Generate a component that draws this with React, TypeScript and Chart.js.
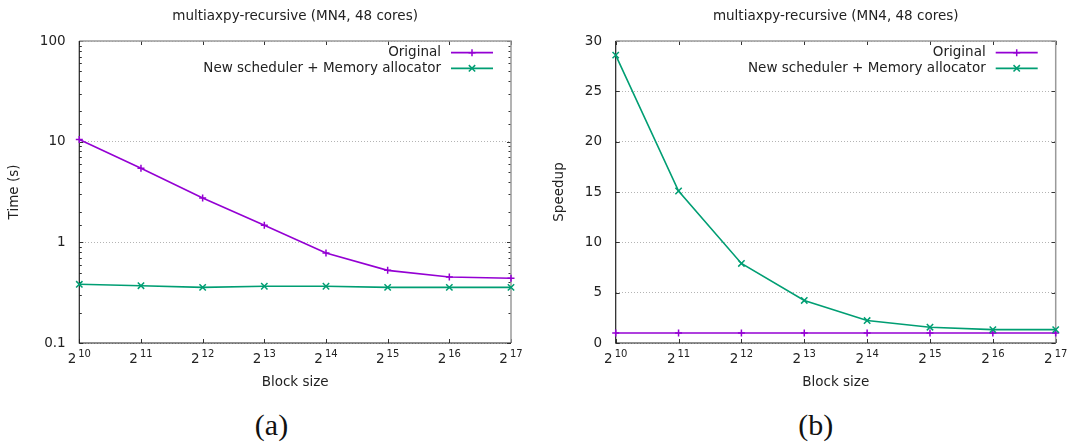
import React, { useEffect, useRef } from 'react';
import { Chart, registerables } from 'chart.js';

Chart.register(...registerables);

// ---------- data ----------
const blockExponents = [10, 11, 12, 13, 14, 15, 16, 17];
const blockBase = '2';
const seriesNames = ['Original', 'New scheduler + Memory allocator'];
const seriesColors = ['#9400d3', '#009e73'];
const seriesMarkers = ['cross', 'crossRot'];
const timeOriginal = [10.5, 5.45, 2.76, 1.48, 0.785, 0.527, 0.453, 0.44];
const timeNew = [0.383, 0.371, 0.357, 0.366, 0.366, 0.357, 0.357, 0.357];
const speedupOriginal = [1, 1, 1, 1, 1, 1, 1, 1];
const speedupNew = [28.6, 15.1, 7.9, 4.23, 2.23, 1.57, 1.33, 1.33];
const timeTickValues = [0.1, 1, 10, 100];
const timeTickLabels = ['0.1', '1', '10', '100'];
const speedupTickValues = [0, 5, 10, 15, 20, 25, 30];
const chartTitle = 'multiaxpy-recursive (MN4, 48 cores)';
const xTitle = 'Block size';
const yTitles = ['Time (s)', 'Speedup'];
const captions = ['(a)', '(b)'];

const FONT = "'DejaVu Sans', sans-serif";
const FS = 13.5;
const TEXT = '#222';

function isMajor(v: number, majors: number[]) {
  return majors.some((m) => Math.abs(v - m) < 1e-9 * Math.max(1, Math.abs(m)));
}

function drawMarker(ctx: CanvasRenderingContext2D, style: string, x: number, y: number, r: number) {
  ctx.beginPath();
  if (style === 'cross') {
    ctx.moveTo(x - r, y);
    ctx.lineTo(x + r, y);
    ctx.moveTo(x, y - r);
    ctx.lineTo(x, y + r);
  } else {
    const d = r * Math.SQRT1_2;
    ctx.moveTo(x - d, y - d);
    ctx.lineTo(x + d, y + d);
    ctx.moveTo(x - d, y + d);
    ctx.lineTo(x + d, y - d);
  }
  ctx.stroke();
}

const gnuplotPlugin = {
  id: 'gnuplotFrame',
  beforeDatasetsDraw(chart: any) {
    const opts = chart.options.plugins.gnuplotFrame;
    const { ctx, chartArea } = chart;
    const { left, right, top, bottom } = chartArea;
    const xs = chart.scales.x;
    const ys = chart.scales.y;
    ctx.save();
    ctx.strokeStyle = '#333';
    ctx.lineWidth = 1;
    // x tick marks (inward, bottom and top)
    blockExponents.forEach((_, i) => {
      const px = Math.round(xs.getPixelForValue(i)) + 0.5;
      ctx.beginPath();
      ctx.moveTo(px, bottom);
      ctx.lineTo(px, bottom - 4);
      ctx.moveTo(px, top);
      ctx.lineTo(px, top + 4);
      ctx.stroke();
    });
    // y tick marks (inward, left and right)
    ys.ticks.forEach((t: any) => {
      const py = Math.round(ys.getPixelForValue(t.value)) + 0.5;
      const len = isMajor(t.value, opts.majors) ? 4 : 2.5;
      ctx.beginPath();
      ctx.moveTo(left, py);
      ctx.lineTo(left + len, py);
      ctx.moveTo(right, py);
      ctx.lineTo(right - len, py);
      ctx.stroke();
    });
    // frame
    ctx.strokeStyle = '#9a9a9a';
    ctx.lineWidth = 1.5;
    ctx.beginPath();
    ctx.moveTo(left, top);
    ctx.lineTo(right, top);
    ctx.lineTo(right, bottom);
    ctx.stroke();
    ctx.strokeStyle = '#222';
    ctx.lineWidth = 1.2;
    ctx.beginPath();
    ctx.moveTo(left, top);
    ctx.lineTo(left, bottom);
    ctx.lineTo(right, bottom);
    ctx.stroke();
    ctx.restore();
  },
  afterDraw(chart: any) {
    const { ctx, chartArea } = chart;
    const { right, top } = chartArea;
    const xs = chart.scales.x;
    ctx.save();
    // x tick labels: 2^n with superscript
    ctx.fillStyle = TEXT;
    ctx.textBaseline = 'alphabetic';
    ctx.textAlign = 'left';
    blockExponents.forEach((e, i) => {
      const px = xs.getPixelForValue(i);
      ctx.font = `${FS}px ${FONT}`;
      const wb = ctx.measureText(blockBase).width;
      ctx.font = `10px ${FONT}`;
      const we = ctx.measureText(String(e)).width;
      const gap = 2;
      const start = px - (wb + gap + we) / 2;
      ctx.font = `${FS}px ${FONT}`;
      ctx.fillText(blockBase, start, 363.3);
      ctx.font = `10px ${FONT}`;
      ctx.fillText(String(e), start + wb + gap, 357.3);
    });
    // legend
    chart.data.datasets.forEach((ds: any) => {
      const idx = ds.seriesIndex;
      const y = top + (idx === 0 ? 11.7 : 27.3);
      ctx.font = `${FS}px ${FONT}`;
      ctx.fillStyle = TEXT;
      ctx.textAlign = 'right';
      ctx.textBaseline = 'middle';
      ctx.fillText(seriesNames[idx], right - 70, y);
      ctx.strokeStyle = seriesColors[idx];
      ctx.lineWidth = 1.7;
      ctx.beginPath();
      ctx.moveTo(right - 60, y);
      ctx.lineTo(right - 18, y);
      ctx.stroke();
      ctx.lineWidth = 1.5;
      drawMarker(ctx, seriesMarkers[idx], right - 39, y, idx === 0 ? 3.5 : 4.5);
    });
    ctx.restore();
  },
};

function makeDataset(idx: number, values: number[]) {
  return {
    label: seriesNames[idx],
    seriesIndex: idx,
    data: values,
    borderColor: seriesColors[idx],
    backgroundColor: seriesColors[idx],
    borderWidth: 1.6,
    pointStyle: seriesMarkers[idx],
    pointRadius: idx === 0 ? 3.5 : 4.5,
    pointBorderWidth: 1.5,
    pointBorderColor: seriesColors[idx],
    tension: 0,
    clip: false,
    order: idx === 0 ? 1 : 0,
  };
}

function makeConfig(kind: 'time' | 'speedup'): any {
  const isTime = kind === 'time';
  const majors = isTime ? timeTickValues : speedupTickValues;
  const titleFont = { family: FONT, size: FS, weight: 'normal', lineHeight: 1.2 };
  return {
    type: 'line',
    data: {
      labels: blockExponents.map(String),
      datasets: isTime
        ? [makeDataset(0, timeOriginal), makeDataset(1, timeNew)]
        : [makeDataset(0, speedupOriginal), makeDataset(1, speedupNew)],
    },
    plugins: [gnuplotPlugin],
    options: {
      responsive: false,
      animation: false,
      devicePixelRatio: 1,
      layout: { padding: { left: 0, right: isTime ? 23 : 12.3, top: 0, bottom: 0 } },
      plugins: {
        legend: { display: false },
        tooltip: { enabled: false },
        title: {
          display: true,
          text: chartTitle,
          fullSize: false,
          color: TEXT,
          font: titleFont,
          padding: { top: 8.6, bottom: 16.2 },
        },
        gnuplotFrame: { majors },
      },
      scales: {
        x: {
          type: 'category',
          offset: false,
          grid: { display: false },
          border: { display: false },
          ticks: { display: false },
          title: {
            display: true,
            text: xTitle,
            color: TEXT,
            font: titleFont,
            padding: { top: 0, bottom: 9.9 },
          },
          afterFit: (s: any) => {
            s.height = 57;
          },
        },
        y: isTime
          ? {
              type: 'logarithmic',
              position: 'left',
              min: 0.1,
              max: 100,
              grid: {
                drawTicks: false,
                lineWidth: 1,
                color: (c: any) =>
                  c.tick && isMajor(c.tick.value, majors) ? '#b4b4b4' : 'rgba(0,0,0,0)',
              },
              border: { display: false, dash: [1, 2] },
              ticks: {
                autoSkip: false,
                padding: 13.7,
                color: TEXT,
                font: { family: FONT, size: FS },
                callback: (v: any) => {
                  const i = timeTickValues.findIndex((m) => Math.abs(Number(v) - m) < 1e-9 * m);
                  return i >= 0 ? timeTickLabels[i] : '';
                },
              },
              title: {
                display: true,
                text: yTitles[0],
                color: TEXT,
                font: titleFont,
                padding: { top: 6.6, bottom: 0 },
              },
              afterFit: (s: any) => {
                s.width = 79.3;
              },
            }
          : {
              type: 'linear',
              position: 'left',
              min: 0,
              max: 30,
              grid: { drawTicks: false, lineWidth: 1, color: '#b4b4b4' },
              border: { display: false, dash: [1, 2] },
              ticks: {
                autoSkip: false,
                stepSize: 5,
                padding: 13.7,
                color: TEXT,
                font: { family: FONT, size: FS },
                callback: (v: any) => String(v),
              },
              title: {
                display: true,
                text: yTitles[1],
                color: TEXT,
                font: titleFont,
                padding: { top: 16.9, bottom: 0 },
              },
              afterFit: (s: any) => {
                s.width = 81.7;
              },
            },
      },
    },
  };
}

function GnuChart({ kind, left }: { kind: 'time' | 'speedup'; left: number }) {
  const ref = useRef<HTMLCanvasElement>(null);
  useEffect(() => {
    const chart = new Chart(ref.current as HTMLCanvasElement, makeConfig(kind));
    return () => chart.destroy();
  }, [kind]);
  return (
    <div style={{ position: 'absolute', left, top: 0, width: 534, height: 400 }}>
      <canvas ref={ref} width={534} height={400} style={{ display: 'block' }} />
    </div>
  );
}

function Caption({ text, cx }: { text: string; cx: number }) {
  return (
    <div
      style={{
        position: 'absolute',
        left: cx - 50,
        top: 410,
        width: 100,
        textAlign: 'center',
        fontFamily: "'Liberation Serif', serif",
        fontSize: 30,
        lineHeight: '30px',
        color: '#111',
      }}
    >
      {text}
    </div>
  );
}

export default function App() {
  return (
    <div
      style={{
        position: 'absolute',
        left: 0,
        top: 0,
        width: 1068,
        height: 444,
        background: '#fff',
        overflow: 'hidden',
      }}
    >
      <GnuChart kind="time" left={0} />
      <GnuChart kind="speedup" left={534} />
      <Caption text={captions[0]} cx={271.5} />
      <Caption text={captions[1]} cx={815.7} />
    </div>
  );
}
